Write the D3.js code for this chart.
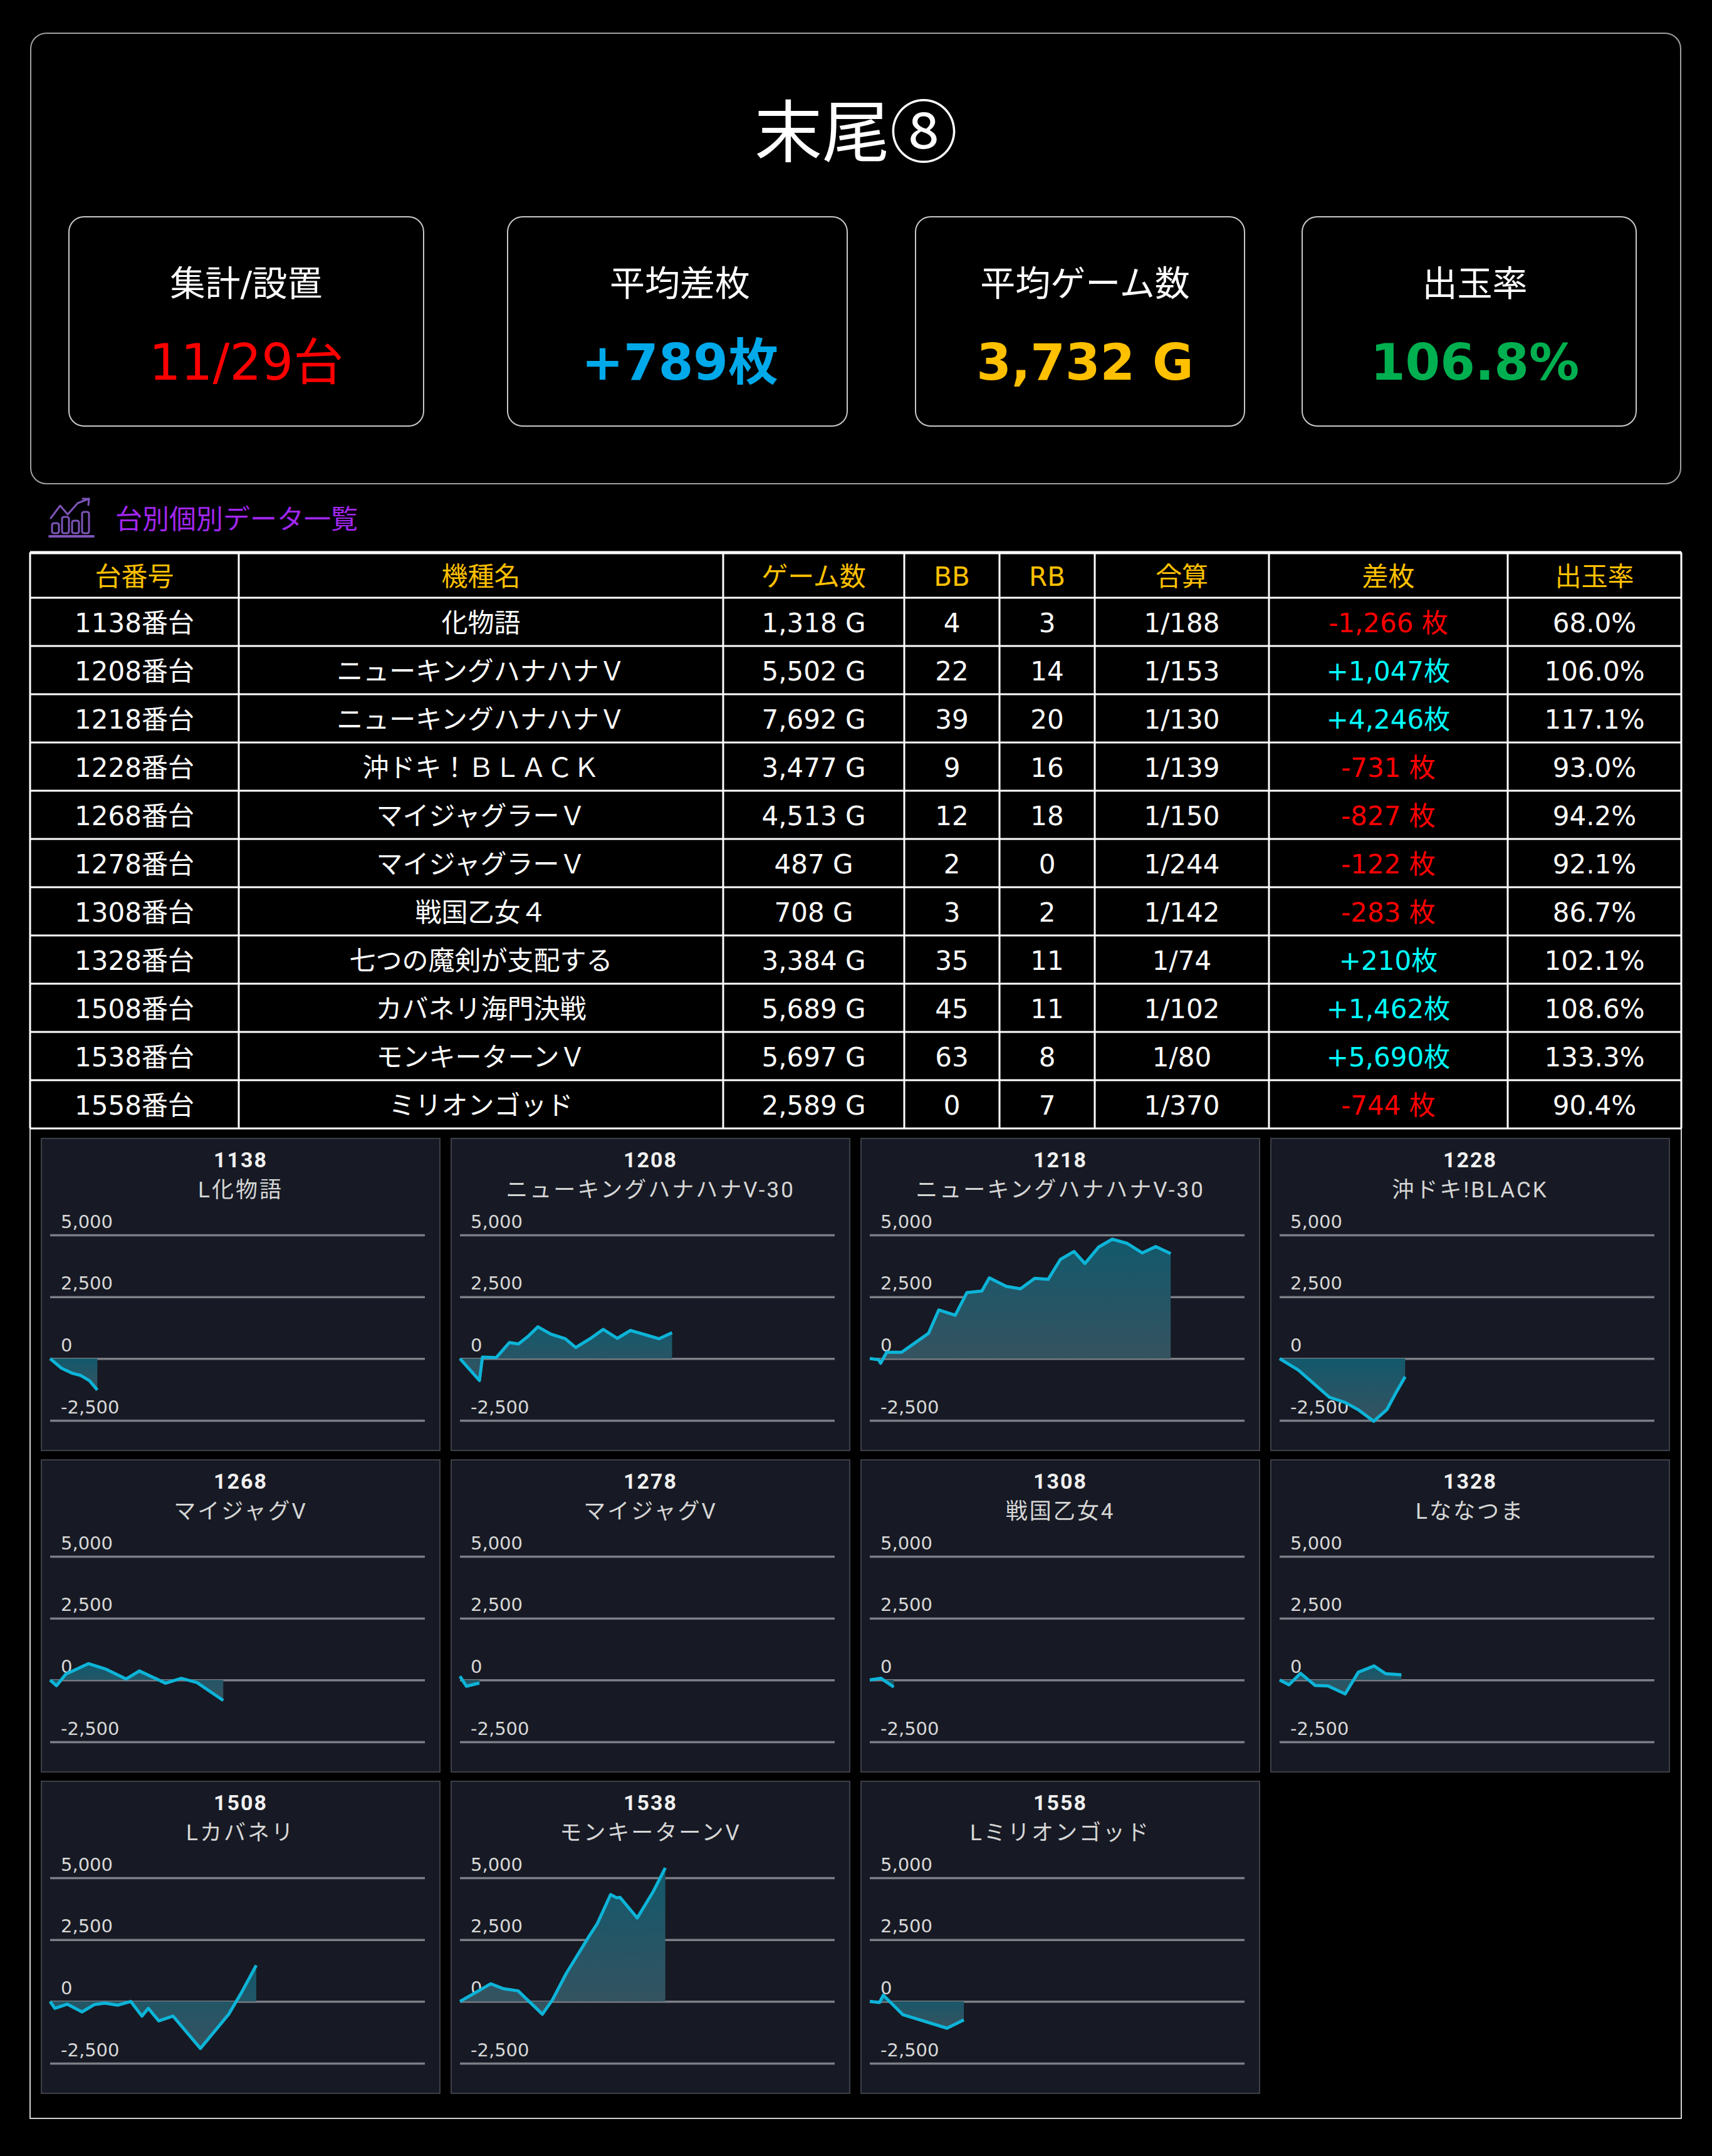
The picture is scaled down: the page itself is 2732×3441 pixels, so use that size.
<!DOCTYPE html>
<html><head><meta charset="utf-8">
<script src="https://cdn.jsdelivr.net/npm/d3@7"></script>
<style>
html,body{margin:0;padding:0;background:#000;}
svg{display:block;}
</style></head><body>
<svg id="c" width="2732" height="3441"></svg>
<script>
// ---------------- DATA ----------------
const pageTitle = "末尾⑧";
const statLabels = ["集計/設置", "平均差枚", "平均ゲーム数", "出玉率"];
const statValues = ["11/29台", "+789枚", "3,732 G", "106.8%"];
const sectionTitle = "台別個別データ一覧";

const columns = ["台番号", "機種名", "ゲーム数", "BB", "RB", "合算", "差枚", "出玉率"];
const machineNos = ["1138", "1208", "1218", "1228", "1268", "1278", "1308", "1328", "1508", "1538", "1558"];
const modelNames = ["化物語", "ニューキングハナハナＶ", "ニューキングハナハナＶ", "沖ドキ！ＢＬＡＣＫ", "マイジャグラーＶ", "マイジャグラーＶ", "戦国乙女４", "七つの魔剣が支配する", "カバネリ海門決戦", "モンキーターンＶ", "ミリオンゴッド"];
const gameCounts = [1318, 5502, 7692, 3477, 4513, 487, 708, 3384, 5689, 5697, 2589];
const bbCounts = [4, 22, 39, 9, 12, 2, 3, 35, 45, 63, 0];
const rbCounts = [3, 14, 20, 16, 18, 0, 2, 11, 11, 8, 7];
const combinedOdds = ["1/188", "1/153", "1/130", "1/139", "1/150", "1/244", "1/142", "1/74", "1/102", "1/80", "1/370"];
const diffCoins = [-1266, 1047, 4246, -731, -827, -122, -283, 210, 1462, 5690, -744];
const payoutRates = ["68.0%", "106.0%", "117.1%", "93.0%", "94.2%", "92.1%", "86.7%", "102.1%", "108.6%", "133.3%", "90.4%"];

const chartNos = ["1138", "1208", "1218", "1228", "1268", "1278", "1308", "1328", "1508", "1538", "1558"];
const chartNames = ["L化物語", "ニューキングハナハナV-30", "ニューキングハナハナV-30", "沖ドキ!BLACK", "マイジャグV", "マイジャグV", "戦国乙女4", "Lななつま", "Lカバネリ", "モンキーターンV", "Lミリオンゴッド"];
const yTicks = [-2500, 0, 2500, 5000];

// [progress %, 差枚]
const s1138 = [[0,0],[3.0,-384],[6.0,-597],[8.2,-683],[10.5,-896],[12.6,-1266]];
const s1208 = [[0,0],[5.2,-887],[6.0,59],[9.7,42],[13.2,650],[15.6,591],[18.1,887],[20.8,1284],[24.3,988],[28.1,802],[30.9,448],[34.7,802],[38.2,1182],[42.0,819],[45.5,1140],[49.3,971],[53.1,802],[56.6,1047]];
const s1218 = [[0,0],[2.3,-43],[2.9,-188],[4.5,256],[8.5,256],[12.5,684],[15.7,1026],[18.4,1966],[22.8,1752],[25.9,2667],[29.9,2735],[31.9,3265],[36.4,2923],[40.2,2820],[44.0,3248],[47.6,3205],[50.9,4017],[54.5,4333],[57.4,3846],[61.1,4513],[64.7,4829],[68.7,4658],[72.7,4274],[76.3,4530],[80.3,4246]];
const s1228 = [[0,0],[5.0,-465],[13.3,-1563],[17.5,-1774],[21.0,-2069],[25.1,-2534],[28.6,-2069],[31.0,-1394],[33.5,-731]];
const s1268 = [[0,0],[1.7,-230],[4.2,238],[10.2,663],[14.7,451],[20.3,43],[23.8,366],[30.8,-128],[35.0,68],[39.2,-102],[46.2,-827]];
const s1278 = [[0,150],[1.7,-250],[5.2,-122]];
const s1308 = [[0,0],[3.0,70],[6.4,-283]];
const s1328 = [[0,0],[2.5,-196],[5.6,272],[9.5,-221],[12.9,-238],[17.5,-561],[21.0,315],[25.2,570],[28.3,255],[32.5,210]];
const s1508 = [[0,0],[1.25,-279],[4.6,-110],[8.5,-422],[11.8,-127],[14.6,-68],[18.0,-152],[21.5,0],[24.5,-591],[26.2,-279],[29.0,-785],[32.8,-591],[40.1,-1900],[47.7,-507],[51.2,397],[55.0,1462]];
const s1538 = [[0,0],[8.2,713],[11.6,515],[15.5,430],[22.0,-515],[24.7,69],[28.4,1143],[34.5,2646],[36.7,3162],[40.2,4321],[41.8,4192],[42.7,4210],[47.3,3376],[51.6,4450],[54.8,5400]];
const s1558 = [[0,0],[2.6,-42],[3.6,253],[8.8,-532],[20.6,-1081],[25.1,-744]];
const chartSeries = [s1138, s1208, s1218, s1228, s1268, s1278, s1308, s1328, s1508, s1538, s1558];

// ---------------- STYLE / LAYOUT ----------------
const FONT_MAIN = "'DejaVu Sans','Noto Sans CJK JP',sans-serif";
const FONT_CJK = "'Noto Sans CJK JP','DejaVu Sans',sans-serif";
const FONT_CHART = "Roboto,'Noto Sans CJK JP',sans-serif";
const statColors = ["#ff0000", "#00a9ea", "#ffc000", "#00b050"];
const statWeights = ["normal", "bold", "bold", "bold"];
const statBoxes = [{x:110,w:566,o:0},{x:810,w:542,o:4},{x:1461,w:525,o:8},{x:2078,w:533,o:9}];

const svg = d3.select("#c");
svg.append("rect").attr("width", 2732).attr("height", 3441).attr("fill", "#000");

// ---------------- HEADER ----------------
svg.append("rect").attr("x", 49).attr("y", 53).attr("width", 2633).attr("height", 719)
  .attr("rx", 25).attr("fill", "#000").attr("stroke", "#a0a0a0").attr("stroke-width", 2);
svg.append("text").attr("x", 1366).attr("y", 250).attr("text-anchor", "middle")
  .attr("font-family", FONT_CJK).attr("font-size", 108).attr("fill", "#fff").text(pageTitle);

const sg = svg.selectAll("g.stat").data(statLabels).join("g").attr("class", "stat");
sg.append("rect")
  .attr("x", (d, i) => statBoxes[i].x).attr("y", 346)
  .attr("width", (d, i) => statBoxes[i].w).attr("height", 334)
  .attr("rx", 24).attr("fill", "#000").attr("stroke", "#c8c8c8").attr("stroke-width", 2);
sg.append("text")
  .attr("x", (d, i) => statBoxes[i].x + statBoxes[i].w / 2 + statBoxes[i].o).attr("y", 472)
  .attr("text-anchor", "middle").attr("font-family", FONT_MAIN).attr("font-size", 56)
  .attr("fill", "#fff").text(d => d);
sg.append("text")
  .attr("x", (d, i) => statBoxes[i].x + statBoxes[i].w / 2 + statBoxes[i].o).attr("y", 606)
  .attr("text-anchor", "middle").attr("font-family", FONT_MAIN).attr("font-size", 80)
  .attr("font-weight", (d, i) => statWeights[i])
  .attr("fill", (d, i) => statColors[i]).text((d, i) => statValues[i]);

// ---------------- SECTION TITLE ----------------
const icon = svg.append("g").attr("transform", "translate(78,795)")
  .attr("fill", "none").attr("stroke", "#7d55b8").attr("stroke-width", 3)
  .attr("stroke-linejoin", "round").attr("stroke-linecap", "round");
icon.append("line").attr("x1", 1).attr("x2", 71).attr("y1", 61).attr("y2", 61).attr("stroke-width", 4);
[[5,40],[21,30],[37,36],[53,22]].forEach(([bx, by]) => {
  icon.append("rect").attr("x", bx).attr("y", by).attr("width", 11).attr("height", 56 - by).attr("rx", 3);
});
icon.append("polyline").attr("points", "3,32 18,12 30,26 46,8 64,1");
icon.append("polyline").attr("points", "54,1 64,1 63,11");
svg.append("text").attr("x", 184).attr("y", 844)
  .attr("font-family", FONT_CJK).attr("font-size", 43).attr("fill", "#a126f0").text(sectionTitle);

// ---------------- TABLE ----------------
const colEdges = [48, 381, 1154, 1443, 1595, 1747, 2025, 2406, 2683];
const headTop = 882, headBot = 954, rowH = 77;
svg.append("rect").attr("x", 48).attr("y", 882).attr("width", 2635).attr("height", 2499)
  .attr("fill", "none").attr("stroke", "#d0d0d0").attr("stroke-width", 2);

const colCenter = i => (colEdges[i] + colEdges[i + 1]) / 2;
svg.append("g").selectAll("text").data(columns).join("text")
  .attr("x", (d, i) => colCenter(i)).attr("y", (headTop + headBot) / 2 + 17)
  .attr("text-anchor", "middle").attr("font-family", FONT_MAIN).attr("font-size", 42)
  .attr("fill", "#ffc000").text(d => d);

const fmt = v => v.toLocaleString("en-US");
const rows = machineNos.map((no, i) => [
  {t: no + "番台", c: "#fff"},
  {t: modelNames[i], c: "#fff"},
  {t: fmt(gameCounts[i]) + " G", c: "#fff"},
  {t: String(bbCounts[i]), c: "#fff"},
  {t: String(rbCounts[i]), c: "#fff"},
  {t: combinedOdds[i], c: "#fff"},
  {t: diffCoins[i] < 0 ? fmt(diffCoins[i]) + " 枚" : "+" + fmt(diffCoins[i]) + "枚", c: diffCoins[i] < 0 ? "#ff0000" : "#00ffff"},
  {t: payoutRates[i], c: "#fff"}
]);
const rowG = svg.append("g").selectAll("g").data(rows).join("g")
  .attr("transform", (d, i) => `translate(0,${headBot + rowH * i + rowH / 2 + 16})`);
rowG.selectAll("text").data(d => d).join("text")
  .attr("x", (d, j) => colCenter(j)).attr("y", 0)
  .attr("text-anchor", "middle").attr("font-family", FONT_MAIN).attr("font-size", 42)
  .attr("fill", d => d.c).text(d => d.t);

const tableBottom = headBot + rowH * machineNos.length;
const hLines = [headTop, headBot].concat(machineNos.map((d, i) => headBot + rowH * (i + 1)));
svg.append("g").selectAll("line").data(hLines).join("line")
  .attr("x1", 48).attr("x2", 2683).attr("y1", d => d).attr("y2", d => d)
  .attr("stroke", "#fff").attr("stroke-width", (d, i) => i === 0 ? 5 : 3);
svg.append("g").selectAll("line").data(colEdges).join("line")
  .attr("x1", d => d).attr("x2", d => d).attr("y1", headTop).attr("y2", tableBottom)
  .attr("stroke", "#fff").attr("stroke-width", 3);

// ---------------- MINI CHARTS ----------------
const PW = 636, PH = 498;
const x = d3.scaleLinear().domain([0, 100]).range([14, 612]);
const y = d3.scaleLinear().domain([-2500, 5000]).range([450, 154]);

const defs = svg.append("defs");
const grad = defs.append("linearGradient").attr("id", "areaGrad")
  .attr("x1", 0).attr("y1", 0).attr("x2", 0).attr("y2", 1);
grad.append("stop").attr("offset", "0%").attr("stop-color", "#12596c");
grad.append("stop").attr("offset", "100%").attr("stop-color", "#37525f");

const area = d3.area().x(d => x(d[0])).y0(y(0)).y1(d => y(d[1]));
const line = d3.line().x(d => x(d[0])).y(d => y(d[1]));

chartSeries.forEach((data, i) => {
  const col = i % 4, row = Math.floor(i / 4);
  const g = svg.append("g").attr("transform", `translate(${66 + col * 654},${1817 + row * 513})`);
  g.append("rect").attr("width", PW).attr("height", PH)
    .attr("fill", "#171a24").attr("stroke", "#3c3f48").attr("stroke-width", 2);
  g.append("text").attr("x", PW / 2).attr("y", 46).attr("text-anchor", "middle")
    .attr("font-family", FONT_CHART).attr("font-weight", "bold").attr("font-size", 34)
    .attr("letter-spacing", 2).attr("fill", "#f0f0f0").text(chartNos[i]);
  g.append("text").attr("x", PW / 2).attr("y", 94).attr("text-anchor", "middle")
    .attr("font-family", FONT_CHART).attr("font-size", 35).attr("letter-spacing", 3)
    .attr("fill", "#d6d6d6").text(chartNames[i]);

  const ax = g.append("g").attr("transform", `translate(${x(0)},0)`)
    .call(d3.axisLeft(y).tickValues(yTicks).tickSize(-(x(100) - x(0))).tickFormat(d3.format(",")));
  ax.select(".domain").remove();
  ax.selectAll(".tick line").attr("stroke", "#7c7f86").attr("stroke-width", 3.5);
  ax.selectAll(".tick text")
    .attr("x", 17).attr("y", -12).attr("dy", null).attr("text-anchor", "start")
    .attr("font-family", "'DejaVu Sans',sans-serif").attr("font-size", 29).attr("fill", "#d8d8d8")
    .text(d => d.toLocaleString("en-US"));

  g.append("path").datum(data).attr("d", area).attr("fill", "url(#areaGrad)");
  g.append("path").datum(data).attr("d", line).attr("fill", "none")
    .attr("stroke", "#0db4d8").attr("stroke-width", 5).attr("stroke-linejoin", "round");
});
</script>
</body></html>
